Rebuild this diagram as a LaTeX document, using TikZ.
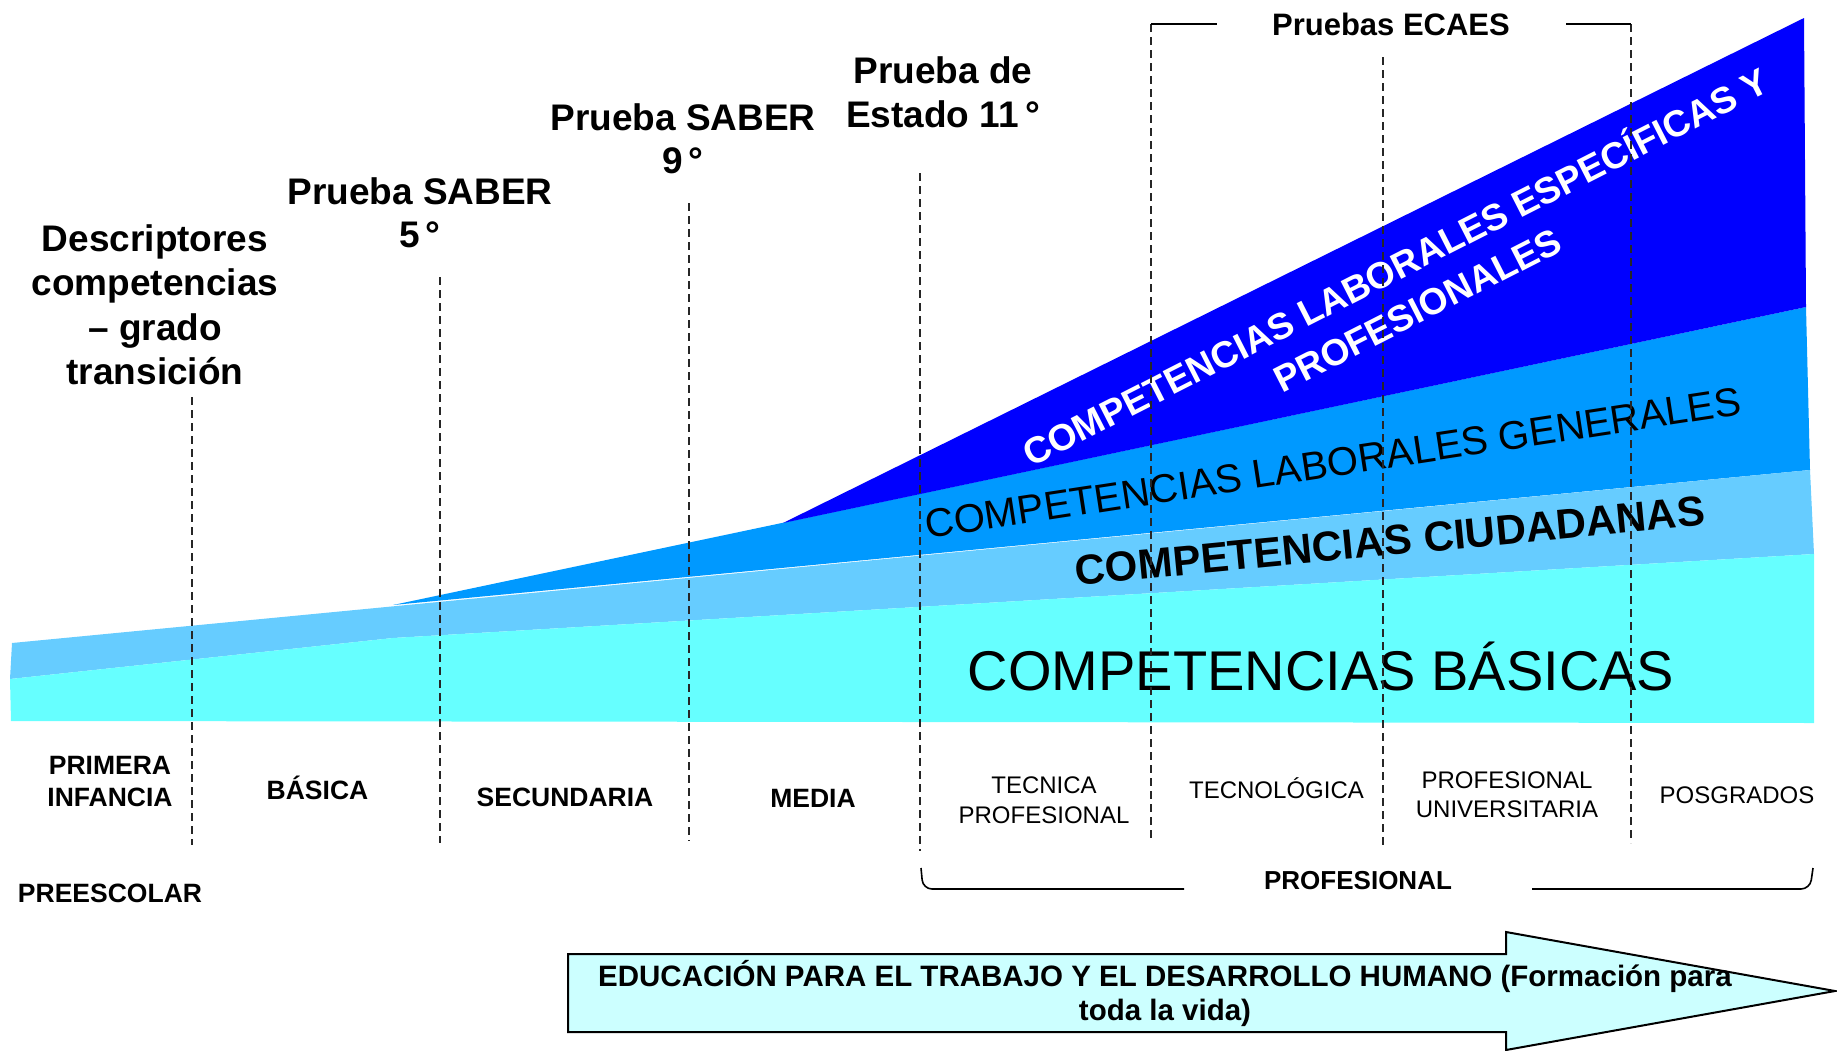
\documentclass[tikz,border=0pt]{standalone}
\usepackage{fontspec}
\setmainfont{Liberation Sans}
\definecolor{dblue}{HTML}{0000FF}
\definecolor{mblue}{HTML}{0099FF}
\definecolor{lblue}{HTML}{66CCFF}
\definecolor{cyanb}{HTML}{66FFFF}
\definecolor{arrowfill}{HTML}{CCFFFF}
\begin{document}
\begin{tikzpicture}[x=1pt,y=-1pt,
  bigl/.style={font=\fontsize{37}{44}\selectfont\bfseries, align=center, inner sep=0pt},
  lvl/.style={font=\fontsize{26.5}{32}\selectfont\bfseries, align=center, inner sep=0pt},
  lvlr/.style={font=\fontsize{24}{29.5}\selectfont, align=center, inner sep=0pt},
  dashline/.style={line width=1.6pt, dash pattern=on 8pt off 5pt, black!85},
  brk/.style={line width=1.6pt, black},
  arrowshape/.style={draw=black, line width=2pt, fill=arrowfill, line join=miter}
]
\useasboundingbox (0,0) rectangle (1837,1050);

% bands
\fill[mblue] (393,605) -- (1806,307) -- (1810,470) -- cycle;
\fill[lblue] (12,643) -- (1810,470) -- (1814,554) -- (393,638) -- (10,679) -- cycle;
\fill[cyanb] (10,679) -- (393,638) -- (1814,554) -- (1814,723) -- (11,721) -- cycle;
\fill[dblue] (783,523) -- (1804,18) -- (1806,307) -- cycle;

% band texts
\node[font=\fontsize{56}{60}\selectfont, inner sep=0pt, anchor=base] (basicas) at (1321,690) {COMPETENCIAS BÁSICAS};
\node[font=\fontsize{42}{48}\selectfont\bfseries, inner sep=0pt, rotate=5.5] (ciud) at (1390,541) {COMPETENCIAS CIUDADANAS};
\node[font=\fontsize{40}{48}\selectfont, inner sep=0pt, rotate=8.7] (labgen) at (1333,463) {COMPETENCIAS LABORALES GENERALES};
\node[font=\fontsize{37}{48}\selectfont\bfseries, text=white, align=center, inner sep=0pt, rotate=27] (labesp) at (1405,286) {COMPETENCIAS LABORALES ESPECÍFICAS Y\\PROFESIONALES};

% top labels
\node[bigl, font=\fontsize{37}{44.5}\selectfont\bfseries] (desc) at (155,305) {Descriptores\\competencias\\– grado\\transición};
\node[bigl, font=\fontsize{37}{43}\selectfont\bfseries] (saber5) at (420,213) {Prueba SABER\\5\,°};
\node[bigl, font=\fontsize{37}{43.5}\selectfont\bfseries] (saber9) at (683,139) {Prueba SABER\\9\,°};
\node[bigl] (estado) at (943,92) {Prueba de\\Estado 11\,°};
\node[font=\fontsize{31}{36}\selectfont\bfseries, inner sep=0pt, anchor=base] (ecaes) at (1391,35) {Pruebas ECAES};

% dashed separators
\coordinate (d1t) at (192,397); \coordinate (d1b) at (192,845);
\coordinate (d2t) at (440,277); \coordinate (d2b) at (440,843);
\coordinate (d3t) at (689,203); \coordinate (d3b) at (689,841);
\coordinate (d4t) at (920,173); \coordinate (d4b) at (920,851);
\coordinate (d5t) at (1151,24); \coordinate (d5b) at (1151,838);
\coordinate (d6t) at (1383,57); \coordinate (d6b) at (1383,845);
\coordinate (d7t) at (1631,24); \coordinate (d7b) at (1631,843);
\foreach \i in {1,...,7} { \draw[dashline] (d\i t) -- (d\i b); }

% ECAES bracket
\coordinate (e1) at (1217,24); \coordinate (e2) at (1566,24);
\draw[brk] (d5t) -- (e1);
\draw[brk] (e2) -- (d7t);

% level labels
\node[lvl] (primera) at (110,782) {PRIMERA\\INFANCIA};
\node[lvl, anchor=base] (basica) at (317.5,799.5) {BÁSICA};
\node[lvl, anchor=base] (preesc) at (110,902.5) {PREESCOLAR};
\node[lvl, anchor=base] (secund) at (565,806.5) {SECUNDARIA};
\node[lvl, anchor=base] (media) at (813,807.5) {MEDIA};
\node[lvlr, font=\fontsize{24}{30}\selectfont] (tecnica) at (1044,800) {TECNICA\\PROFESIONAL};
\node[lvlr, anchor=base] (tecno) at (1276.5,798.6) {TECNOLÓGICA};
\node[lvlr, font=\fontsize{24}{29}\selectfont] (profuniv) at (1507,794.5) {PROFESIONAL\\UNIVERSITARIA};
\node[lvlr, anchor=base] (posgr) at (1737,803.6) {POSGRADOS};
\node[lvl, font=\fontsize{26}{32}\selectfont\bfseries, anchor=base] (profes) at (1358,889.3) {PROFESIONAL};

% PROFESIONAL bracket
\coordinate (b1) at (921,868); \coordinate (b2) at (1184,889);
\coordinate (b3) at (1532,889); \coordinate (b4) at (1813,868);
\draw[brk, rounded corners=9pt] (b1) -- (923,889) -- (b2);
\draw[brk, rounded corners=9pt] (b3) -- (1810,889) -- (b4);

% arrow
\draw[arrowshape] (568,954) -- (1506,954) -- (1506,932) -- (1835,991) -- (1506,1050) -- (1506,1032) -- (568,1032) -- cycle;
\node[font=\fontsize{29.5}{34}\selectfont\bfseries, align=center, inner sep=0pt] (edu) at (1165,993) {EDUCACIÓN PARA EL TRABAJO Y EL DESARROLLO HUMANO (Formación para\\toda la vida)};
\end{tikzpicture}
\end{document}
